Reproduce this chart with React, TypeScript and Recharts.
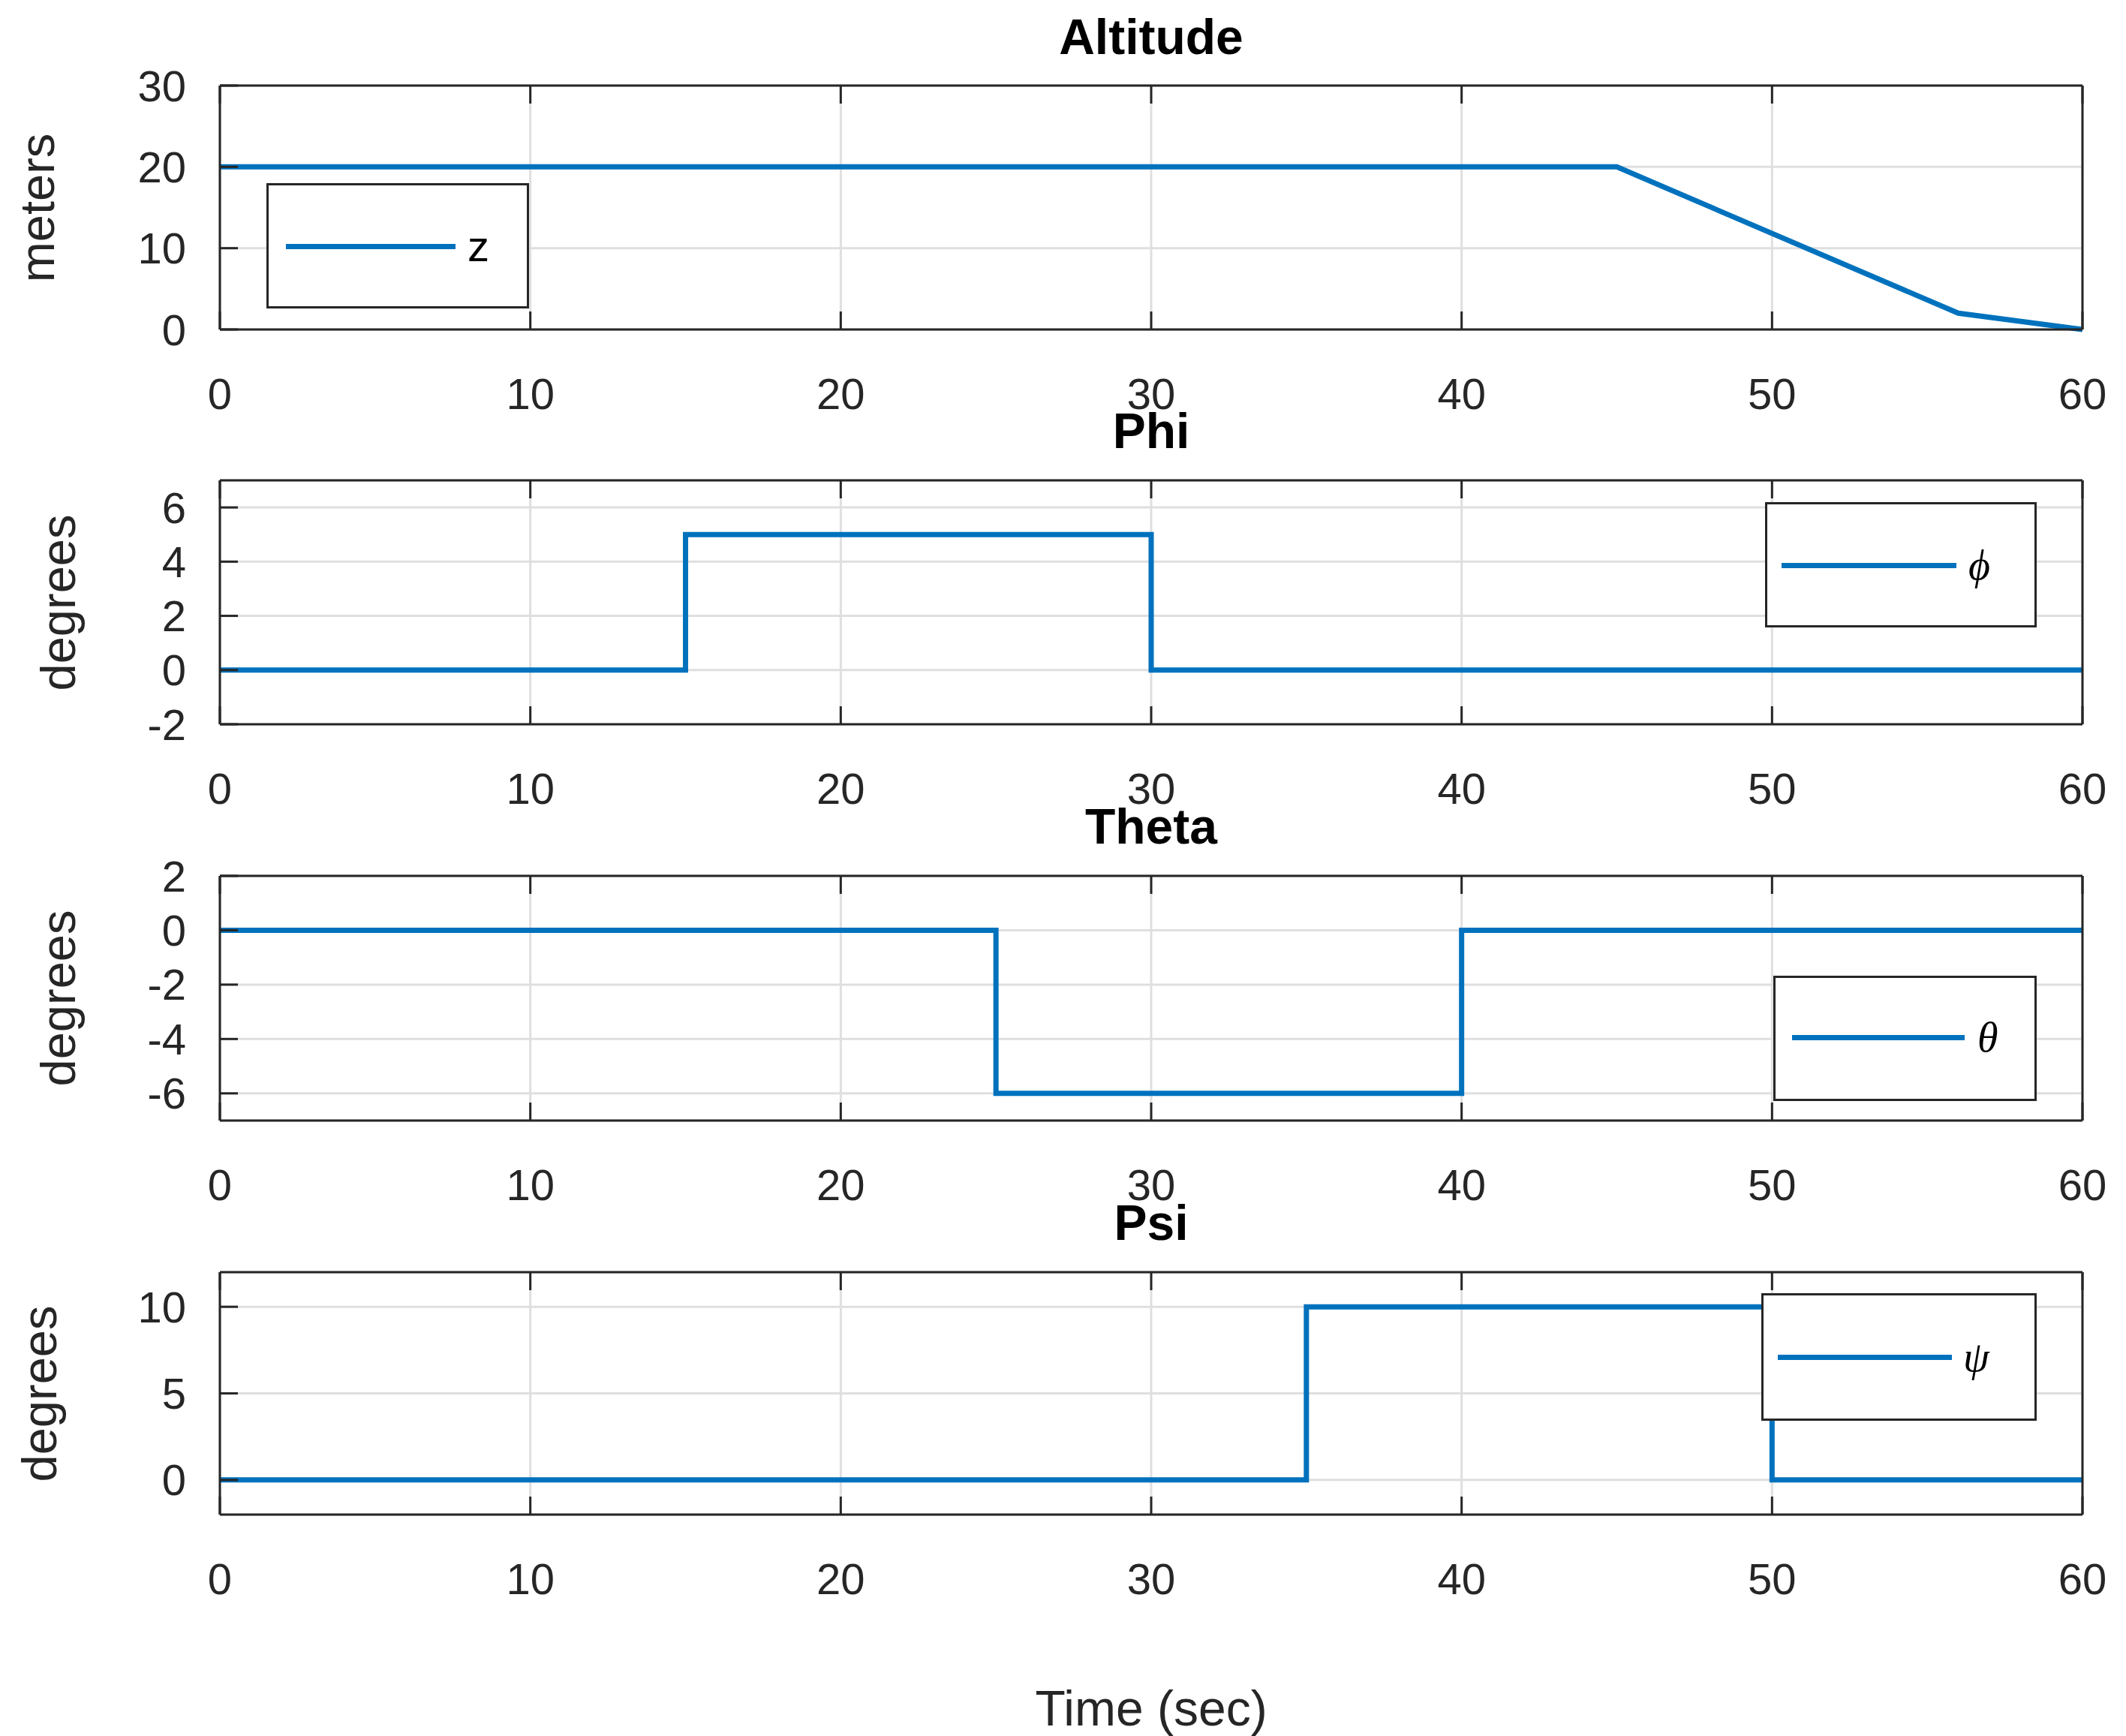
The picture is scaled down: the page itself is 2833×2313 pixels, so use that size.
import React from "react"
import { CartesianGrid, Legend, Line, LineChart, XAxis, YAxis } from "recharts"

// time axis shared by all four panels
const timeTicks = [0, 10, 20, 30, 40, 50, 60]

const altitudeTime = [0, 45, 56, 60]
const altitudeValue = [20, 20, 2, 0]
const altitudeTicks = [0, 10, 20, 30]

const phiTime = [0, 15, 30, 60]
const phiValue = [0, 5, 0, 0]
const phiTicks = [-2, 0, 2, 4, 6]

const thetaTime = [0, 25, 40, 60]
const thetaValue = [0, -6, 0, 0]
const thetaTicks = [-6, -4, -2, 0, 2]

const psiTime = [0, 35, 50, 60]
const psiValue = [0, 10, 0, 0]
const psiTicks = [0, 5, 10]

const W = 2833
const H = 2313
const PLOT_LEFT = 293
const PLOT_RIGHT = 2775
const PAD_TOP = 40
const PAD_BOTTOM = 130
const AXIS = 1 // axis band thickness; 0 would stop the axis from drawing
const INK = "#262626"
const BLUE = "#0072BD"
const GRID = "#dfdfdf"
const FONT = '"Liberation Sans", Arial, Helvetica, sans-serif'
const SERIF = '"Liberation Serif", "DejaVu Serif", serif'
const TICK_LEN = 24

const toRows = (t: number[], v: number[]) => t.map((time, i) => ({ time, value: v[i] }))

type LegendBox = {
  left: number
  top: number
  width: number
  height: number
  lineLeft: number
  lineWidth: number
  lineY: number
  textLeft: number
}

type Panel = {
  title: string
  yLabel: string
  name: string
  symbol: string
  serif: boolean
  top: number
  bottom: number
  domain: [number, number]
  ticks: number[]
  data: { time: number; value: number }[]
  curve: "linear" | "stepAfter"
  titleTop: number
  labelX: number
  legend: LegendBox
}

const panels: Panel[] = [
  {
    title: "Altitude",
    yLabel: "meters",
    name: "z",
    symbol: "z",
    serif: false,
    top: 114,
    bottom: 439,
    domain: [0, 30],
    ticks: altitudeTicks,
    data: toRows(altitudeTime, altitudeValue),
    curve: "linear",
    titleTop: 16,
    labelX: 49,
    legend: { left: 355, top: 244, width: 350, height: 167, lineLeft: 26, lineWidth: 226, lineY: 84, textLeft: 268 },
  },
  {
    title: "Phi",
    yLabel: "degrees",
    name: "phi",
    symbol: "\u03d5",
    serif: true,
    top: 640,
    bottom: 965,
    domain: [-2, 7],
    ticks: phiTicks,
    data: toRows(phiTime, phiValue),
    curve: "stepAfter",
    titleTop: 541,
    labelX: 77,
    legend: { left: 2352, top: 669, width: 362, height: 167, lineLeft: 22, lineWidth: 233, lineY: 84, textLeft: 271 },
  },
  {
    title: "Theta",
    yLabel: "degrees",
    name: "theta",
    symbol: "\u03b8",
    serif: true,
    top: 1167,
    bottom: 1493,
    domain: [-7, 2],
    ticks: thetaTicks,
    data: toRows(thetaTime, thetaValue),
    curve: "stepAfter",
    titleTop: 1068,
    labelX: 77,
    legend: { left: 2363, top: 1300, width: 351, height: 167, lineLeft: 25, lineWidth: 230, lineY: 82, textLeft: 272 },
  },
  {
    title: "Psi",
    yLabel: "degrees",
    name: "psi",
    symbol: "\u03c8",
    serif: true,
    top: 1695,
    bottom: 2018,
    domain: [-2, 12],
    ticks: psiTicks,
    data: toRows(psiTime, psiValue),
    curve: "stepAfter",
    titleTop: 1596,
    labelX: 52,
    legend: { left: 2347, top: 1723, width: 367, height: 170, lineLeft: 22, lineWidth: 232, lineY: 85, textLeft: 269 },
  },
]

const BottomTick = (props: any) => {
  const { x, y, payload } = props
  return (
    <g>
      <line x1={x} y1={y} x2={x} y2={y - TICK_LEN} stroke={INK} strokeWidth={3} />
      <text x={x} y={y + 85} textAnchor="middle" dominantBaseline="central" fontSize={58} fill={INK} fontFamily={FONT}>
        {payload.value}
      </text>
    </g>
  )
}

const TopTick = (props: any) => {
  const { x, y } = props
  return <line x1={x} y1={y} x2={x} y2={y + TICK_LEN} stroke={INK} strokeWidth={3} />
}

const LeftTick = (props: any) => {
  const { x, y, payload } = props
  return (
    <g>
      <line x1={x} y1={y} x2={x + TICK_LEN} y2={y} stroke={INK} strokeWidth={3} />
      <text x={x - 45} y={y} textAnchor="end" dominantBaseline="central" fontSize={58} fill={INK} fontFamily={FONT}>
        {payload.value}
      </text>
    </g>
  )
}

const RightTick = (props: any) => {
  const { x, y } = props
  return <line x1={x} y1={y} x2={x - TICK_LEN} y2={y} stroke={INK} strokeWidth={3} />
}

function LegendContent({ panel }: { panel: Panel }) {
  const lg = panel.legend
  return (
    <div
      style={{
        position: "relative",
        width: lg.width,
        height: lg.height,
        boxSizing: "border-box",
        border: `3px solid ${INK}`,
        background: "#fff",
      }}
    >
      <div
        style={{
          position: "absolute",
          left: lg.lineLeft - 3,
          top: lg.lineY - 3 - 3.5,
          width: lg.lineWidth,
          height: 7,
          background: BLUE,
        }}
      />
      <div
        style={{
          position: "absolute",
          left: lg.textLeft - 3,
          top: lg.lineY - 3,
          transform: "translateY(-50%)",
          fontFamily: panel.serif ? SERIF : FONT,
          fontStyle: panel.serif ? "italic" : "normal",
          fontSize: panel.serif ? 56 : 58,
          lineHeight: 1,
          color: "#000",
        }}
      >
        {panel.symbol}
      </div>
    </div>
  )
}

function PanelChart({ panel }: { panel: Panel }) {
  const chartTop = panel.top - PAD_TOP
  const height = PAD_TOP + (panel.bottom - panel.top) + PAD_BOTTOM
  const axisLine = { stroke: INK, strokeWidth: 3 }
  return (
    <>
      <div style={{ position: "absolute", left: 0, top: chartTop }}>
        <LineChart
          width={W}
          height={height}
          data={panel.data}
          margin={{
            top: PAD_TOP - AXIS,
            bottom: PAD_BOTTOM - AXIS,
            left: PLOT_LEFT - AXIS,
            right: W - PLOT_RIGHT - AXIS,
          }}
        >
          <CartesianGrid stroke={GRID} strokeWidth={3} />
          <XAxis
            dataKey="time"
            type="number"
            domain={[0, 60]}
            ticks={timeTicks}
            interval={0}
            height={AXIS}
            tickSize={0}
            tickMargin={0}
            tickLine={false}
            axisLine={axisLine}
            tick={<BottomTick />}
          />
          <XAxis
            xAxisId="top"
            orientation="top"
            dataKey="time"
            type="number"
            domain={[0, 60]}
            ticks={timeTicks}
            interval={0}
            height={AXIS}
            tickSize={0}
            tickMargin={0}
            tickLine={false}
            axisLine={axisLine}
            tick={<TopTick />}
          />
          <YAxis
            type="number"
            domain={panel.domain}
            ticks={panel.ticks}
            interval={0}
            width={AXIS}
            tickSize={0}
            tickMargin={0}
            tickLine={false}
            axisLine={axisLine}
            tick={<LeftTick />}
          />
          <YAxis
            yAxisId="right"
            orientation="right"
            type="number"
            domain={panel.domain}
            ticks={panel.ticks}
            interval={0}
            width={AXIS}
            tickSize={0}
            tickMargin={0}
            tickLine={false}
            axisLine={axisLine}
            tick={<RightTick />}
          />
          <Line
            dataKey="value"
            name={panel.name}
            type={panel.curve}
            stroke={BLUE}
            strokeWidth={7}
            dot={false}
            activeDot={false}
            isAnimationActive={false}
          />
          <Legend
            layout="horizontal"
            verticalAlign="middle"
            align="center"
            wrapperStyle={{
              left: panel.legend.left,
              top: panel.legend.top - chartTop,
              width: panel.legend.width,
              height: panel.legend.height,
            }}
            content={() => <LegendContent panel={panel} />}
          />
        </LineChart>
      </div>
      <div
        style={{
          position: "absolute",
          left: (PLOT_LEFT + PLOT_RIGHT) / 2,
          top: panel.titleTop,
          transform: "translateX(-50%)",
          fontFamily: FONT,
          fontWeight: "bold",
          fontSize: 66,
          lineHeight: "66px",
          color: "#000",
          whiteSpace: "nowrap",
        }}
      >
        {panel.title}
      </div>
      <div
        style={{
          position: "absolute",
          left: panel.labelX,
          top: (panel.top + panel.bottom) / 2,
          transform: "translate(-50%, -50%) rotate(-90deg)",
          fontFamily: FONT,
          fontSize: 65,
          lineHeight: "65px",
          color: INK,
          whiteSpace: "nowrap",
        }}
      >
        {panel.yLabel}
      </div>
    </>
  )
}

export default function App() {
  return (
    <div
      style={{
        position: "absolute",
        left: 0,
        top: 0,
        width: W,
        height: H,
        overflow: "hidden",
        background: "#fff",
        fontFamily: FONT,
      }}
    >
      {panels.map((p) => (
        <PanelChart key={p.title} panel={p} />
      ))}
      <div
        style={{
          position: "absolute",
          left: (PLOT_LEFT + PLOT_RIGHT) / 2,
          top: 2243,
          transform: "translateX(-50%)",
          fontFamily: FONT,
          fontSize: 66,
          lineHeight: "66px",
          color: INK,
          whiteSpace: "nowrap",
        }}
      >
        Time (sec)
      </div>
    </div>
  )
}
